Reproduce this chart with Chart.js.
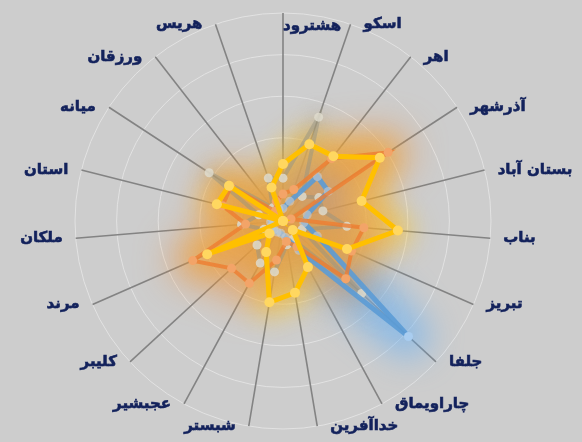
<!DOCTYPE html>
<html>
<head>
<meta charset="utf-8">
<script src="https://cdn.jsdelivr.net/npm/chart.js@4"></script>
<style>
  html, body { margin: 0; padding: 0; background: #cdcdcd; }
  canvas { display: block; }
</style>
</head>
<body>
<canvas id="RadarChart" width="582" height="442"></canvas>
<script>
// categories, clockwise from the top
const cities = ['هشترود', 'اسکو', 'اهر', 'آذرشهر', 'بستان آباد', 'بناب', 'تبریز', 'جلفا', 'چاراویماق', 'خداآفرین',
    'شبستر', 'عجبشیر', 'کلیبر', 'مرند', 'ملکان', 'استان', 'میانه', 'ورزقان', 'هریس'];

const goldValues   = [1.37, 1.95, 1.97, 2.78, 1.95, 2.77, 1.68, 0.32, 1.26, 1.75, 1.98, 0.85, 0.44, 1.99, 0.0, 1.64, 1.55, 0.0, 0.85];
const orangeValues = [0.65, 0.8, 1.9, 3.02, 0.2, 1.95, 1.8, 2.05, 0.7, 0.5, 0.95, 1.7, 1.68, 2.37, 0.9, 1.5, 1.5, 0.3, 0.5];
const blueValues   = [0.3, 0.5, 1.35, 1.3, 0.6, 0.5, 0.9, 4.1, 0.8, 0.4, 0.3, 0.3, 0.3, 0.3, 0.3, 0.3, 0.3, 0.3, 0.3];
const grayValues   = [1.03, 2.64, 0.75, 1.03, 0.99, 1.54, 0.5, 2.57, 0.5, 0.58, 1.24, 1.15, 0.85, 0.5, 1.0, 0.6, 2.12, 0.4, 1.09];

const scaleMax = 5;

// soft glows, all under the lines, drawn from the points the scale has placed
const glowOrder = [3, 2, 0, 1];
const glowPlugin = {
    id: 'glow',
    beforeDatasetsDraw(chart) {
        const ctx = chart.ctx;
        glowOrder.forEach(idx => {
            const ds = chart.data.datasets[idx];
            const pts = chart.getDatasetMeta(idx).data;
            ctx.save();
            ctx.filter = 'blur(' + ds.glowBlur + 'px)';
            ctx.strokeStyle = ds.glowColor;
            ctx.fillStyle = ds.glowFill;
            ctx.lineWidth = ds.glowWidth;
            ctx.lineJoin = 'round';
            ctx.lineCap = 'round';
            ctx.beginPath();
            pts.forEach((p, i) => i ? ctx.lineTo(p.x, p.y) : ctx.moveTo(p.x, p.y));
            ctx.closePath();
            ctx.fill();
            ctx.stroke();
            ctx.restore();
        });
    }
};

// city names sit beside the end of each spoke
const cityLabelPlugin = {
    id: 'cityLabels',
    afterDraw(chart) {
        const scale = chart.scales.r;
        const ctx = chart.ctx;
        ctx.save();
        ctx.font = 'bold 15px "DejaVu Sans"';
        ctx.fillStyle = '#13225c';
        ctx.strokeStyle = '#13225c';
        ctx.lineWidth = 0.6;
        ctx.textBaseline = 'middle';
        cities.forEach((name, i) => {
            const p = scale.getPointPosition(i, scale.drawingArea);
            let x = p.x, y = p.y;
            if (i === 0) {
                ctx.textAlign = 'left';
                y += 13;
            } else if (p.x > scale.xCenter) {
                ctx.textAlign = 'left';
                x += 13;
            } else {
                ctx.textAlign = 'right';
                x -= 13;
            }
            ctx.fillText(name, x, y);
            ctx.strokeText(name, x, y);
        });
        ctx.restore();
    }
};

// blue is faint near the middle and strong along its long spike
function blueSegment(c) {
    const big = Math.max(c.p0.parsed.r, c.p1.parsed.r) > 2;
    return big ? 'rgba(91, 155, 213, 0.95)' : 'rgba(130, 140, 160, 0.4)';
}
function bluePoint(c) {
    return c.raw > 2 ? '#a9cdf0' : 'rgba(200, 205, 210, 0.6)';
}

const ctx = document.getElementById('RadarChart').getContext('2d');
const chart = new Chart(ctx, {
    type: 'radar',
    data: {
        labels: cities,
        datasets: [
            {
                label: 'gold',
                data: goldValues,
                borderColor: '#ffc000',
                borderWidth: 5,
                pointBackgroundColor: '#ffd760',
                pointBorderWidth: 0,
                pointRadius: 5,
                fill: false,
                order: 0,
                glowColor: 'rgba(250, 200, 40, 0.55)',
                glowFill: 'rgba(215, 185, 100, 0.2)',
                glowWidth: 32,
                glowBlur: 13
            },
            {
                label: 'orange',
                data: orangeValues,
                borderColor: 'rgba(237, 125, 49, 0.8)',
                borderWidth: 4,
                pointBackgroundColor: '#f3a468',
                pointBorderWidth: 0,
                pointRadius: 4.5,
                fill: false,
                order: 1,
                glowColor: 'rgba(238, 140, 50, 0.55)',
                glowFill: 'rgba(215, 160, 90, 0.25)',
                glowWidth: 46,
                glowBlur: 18
            },
            {
                label: 'blue',
                data: blueValues,
                borderColor: 'rgba(91, 155, 213, 0.9)',
                segment: { borderColor: blueSegment },
                borderWidth: 5,
                pointBackgroundColor: bluePoint,
                pointBorderWidth: 0,
                pointRadius: 4.5,
                fill: false,
                order: 2,
                glowColor: 'rgba(100, 175, 245, 0.6)',
                glowFill: 'rgba(130, 160, 190, 0.2)',
                glowWidth: 44,
                glowBlur: 16
            },
            {
                label: 'gray',
                data: grayValues,
                borderColor: 'rgba(150, 148, 130, 0.5)',
                borderWidth: 4,
                pointBackgroundColor: 'rgba(222, 218, 205, 0.85)',
                pointBorderWidth: 0,
                pointRadius: 4.5,
                fill: false,
                order: 3,
                glowColor: 'rgba(170, 170, 170, 0.35)',
                glowFill: 'rgba(170, 170, 170, 0.15)',
                glowWidth: 18,
                glowBlur: 8
            }
        ]
    },
    options: {
        responsive: false,
        animation: false,
        layout: { padding: { top: 13, bottom: 13, left: 0, right: 16 } },
        elements: { line: { tension: 0 } },
        plugins: {
            legend: { display: false },
            tooltip: { enabled: false }
        },
        scales: {
            r: {
                min: 0,
                max: scaleMax,
                ticks: { display: false, stepSize: 1 },
                pointLabels: { display: false },
                grid: { circular: true, color: '#e2e2e2', lineWidth: 1 },
                angleLines: { color: '#838383', lineWidth: 1.6 }
            }
        }
    },
    plugins: [glowPlugin, cityLabelPlugin]
});
</script>
</body>
</html>
